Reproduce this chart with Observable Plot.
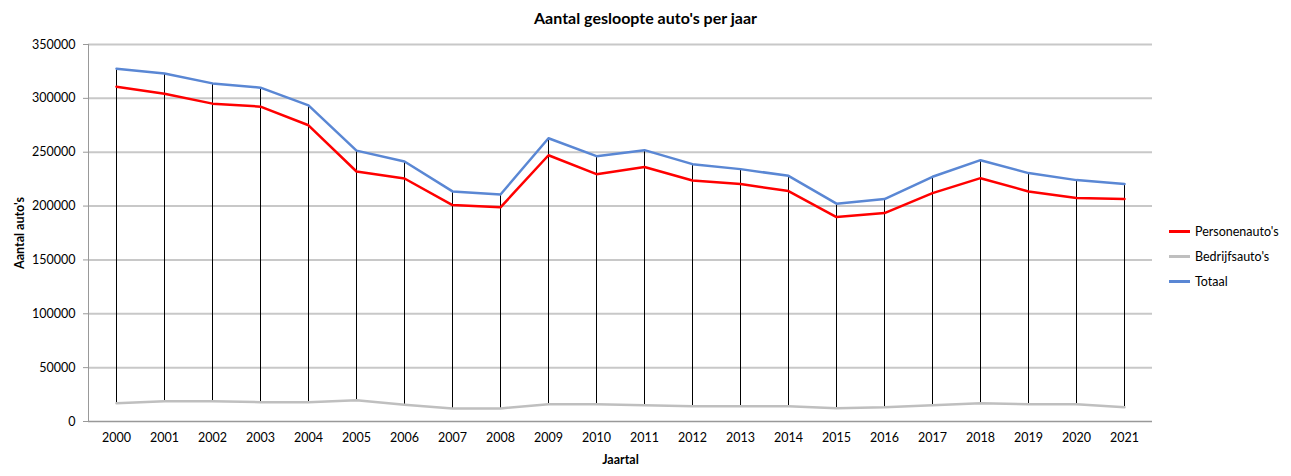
<!DOCTYPE html>
<html>
<head>
<meta charset="utf-8">
<script src="https://cdn.jsdelivr.net/npm/d3@7"></script>
<script src="https://cdn.jsdelivr.net/npm/@observablehq/plot@0.6"></script>
<style>
  html, body { margin: 0; padding: 0; background: #fff; }
  #wrap { position: relative; width: 1291px; height: 476px; font-family: Lato, "Open Sans", sans-serif; }
  #title { position: absolute; left: 0; width: 1291px; top: 8px; text-align: center; font-weight: bold; font-size: 16px; color: #000; }
  #legend { position: absolute; left: 1169px; top: 219px; font-size: 12.5px; color: #000; }
  .item { display: flex; align-items: center; height: 25px; }
  .sw { width: 21px; height: 3px; margin-right: 5px; }
  svg [aria-label="y-axis label"] text, svg [aria-label="x-axis label"] text { font-weight: bold; }
</style>
</head>
<body>
<div id="wrap">
  <div id="title">Aantal gesloopte auto's per jaar</div>
  <div id="chart"></div>
  <div id="legend"></div>
</div>
<script>
const years = ["2000","2001","2002","2003","2004","2005","2006","2007","2008","2009","2010","2011","2012","2013","2014","2015","2016","2017","2018","2019","2020","2021"];
const personenautos = [310800,304300,295100,292300,275000,232100,225600,200900,198800,247200,229600,236200,223800,220400,213900,189800,193500,212000,225900,213600,207400,206500];
const bedrijfsautos = [17000,18900,18900,17900,17900,19800,15500,12100,12100,16100,16100,15200,14200,14200,14200,12400,13300,15200,17000,16100,16100,13300];
const totaal = [327500,323100,313900,309900,293500,251500,241400,213600,210800,263000,246300,251900,238900,234300,228100,202200,206500,227200,242600,230600,224100,220400];
const seriesNames = ["Personenauto's","Bedrijfsauto's","Totaal"];
const seriesColors = ["#ff0000","#bfbfbf","#5a87d4"];
const yTicks = [0,50000,100000,150000,200000,250000,300000,350000];

const seriesValues = [personenautos, bedrijfsautos, totaal];
const rows = [];
seriesNames.forEach((name, i) => years.forEach((yr, j) => rows.push({year: yr, series: name, value: seriesValues[i][j]})));
const hilo = years.map((yr, j) => ({year: yr, low: bedrijfsautos[j], high: totaal[j]}));

const chart = Plot.plot({
  width: 1291,
  height: 476,
  marginTop: 44,
  marginBottom: 55,
  marginLeft: 88,
  marginRight: 139,
  style: {fontFamily: "Lato, 'Open Sans', sans-serif", fontSize: "12px", color: "#000", background: "#fff"},
  x: {type: "band", domain: years, padding: 0, label: null},
  y: {domain: [0, 350000], label: null},
  color: {domain: seriesNames, range: seriesColors},
  marks: [
    Plot.ruleY(yTicks.filter(d => d > 0), {stroke: "#c8c8c8", strokeWidth: 2}),
    Plot.axisY({ticks: yTicks, tickFormat: d => String(d), tickSize: 5, tickPadding: 8, stroke: "#999", label: "Aantal auto's", labelAnchor: "center", labelArrow: "none", labelOffset: 73, fontSize: 12.5}),
    Plot.axisX({tickSize: 0, tickPadding: 12, label: "Jaartal", labelAnchor: "center", labelArrow: "none", labelOffset: 42, fontSize: 12.5}),
    Plot.ruleX(hilo, {x: "year", y1: "low", y2: "high", stroke: "#000", strokeWidth: 1}),
    Plot.line(rows.filter(r => r.series === "Bedrijfsauto's"), {x: "year", y: "value", stroke: "series", strokeWidth: 2.5}),
    Plot.line(rows.filter(r => r.series === "Personenauto's"), {x: "year", y: "value", stroke: "series", strokeWidth: 2.5}),
    Plot.line(rows.filter(r => r.series === "Totaal"), {x: "year", y: "value", stroke: "series", strokeWidth: 2.5}),
    Plot.ruleY([0], {stroke: "#999", strokeWidth: 1.5}),
    Plot.frame({anchor: "left", stroke: "#999"})
  ]
});
document.getElementById("chart").appendChild(chart);

const leg = document.getElementById("legend");
seriesNames.forEach((name, i) => {
  const it = document.createElement("div");
  it.className = "item";
  const sw = document.createElement("div");
  sw.className = "sw";
  sw.style.background = seriesColors[i];
  const tx = document.createElement("span");
  tx.textContent = name;
  it.appendChild(sw); it.appendChild(tx);
  leg.appendChild(it);
});
</script>
</body>
</html>
